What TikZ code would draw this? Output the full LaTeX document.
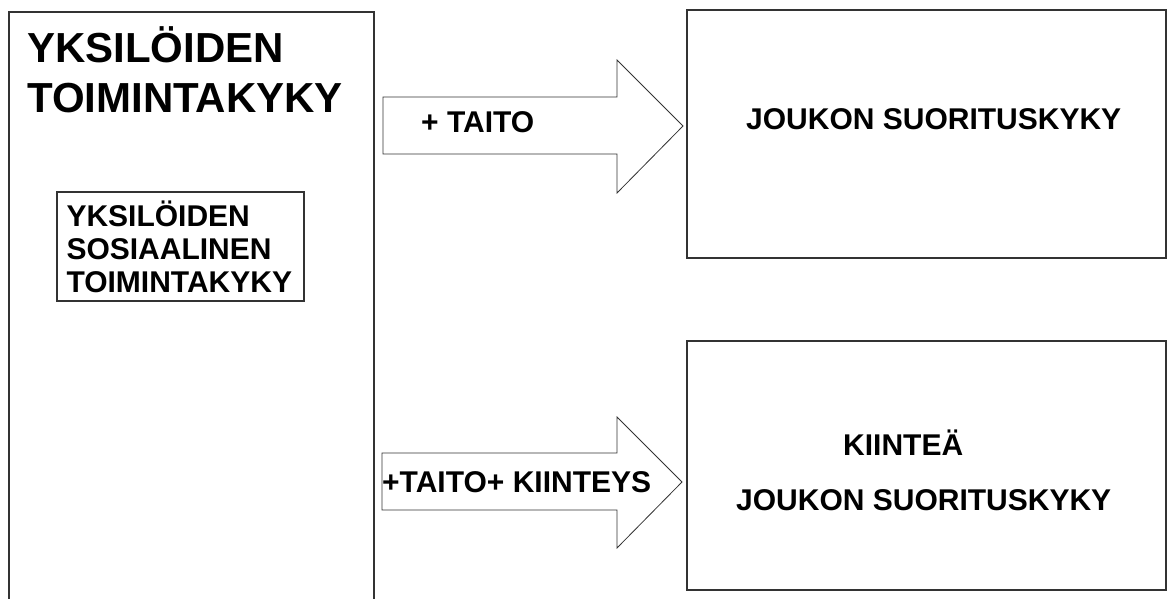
\documentclass[tikz,border=0pt]{standalone}
\usepackage{fontspec}
\setmainfont{Liberation Sans}
\usetikzlibrary{positioning}

\begin{document}
\begin{tikzpicture}[x=1pt, y=-1pt,
  box/.style={rectangle, draw=black!80, line width=1.3pt, inner sep=0pt},
  boxtext/.style={inner sep=0pt, anchor=base west, font=\fontsize{30}{33}\selectfont\bfseries},
  bigarrow/.style={draw=black!80, line width=0.8pt, fill=white, line join=miter}]
\useasboundingbox (0,0) rectangle (1171,599);

\begin{scope}
\clip (0,0) rectangle (1171,599);
\node[box, minimum width=365pt, minimum height=620pt] (yksilot) at (191.5,322) {};
\end{scope}

\node[boxtext, font=\fontsize{42}{50}\selectfont\bfseries, align=left] (otsikko) at (27,113)
{YKSILÖIDEN\\TOIMINTAKYKY};

\node[box, minimum width=247pt, minimum height=109pt, text width=228pt, align=left,
  font=\fontsize{30}{33}\selectfont\bfseries] (sosiaalinen) at (180.5,246.5)
{YKSILÖIDEN\\SOSIAALINEN\\TOIMINTAKYKY};

\node[box, minimum width=479pt, minimum height=248pt] (joukko) at (926.5,134) {};
\node[box, minimum width=479pt, minimum height=249pt] (kiintea) at (926.5,465.5) {};

% arrows
\draw[bigarrow] (383,97) -- (617,97) -- (617,60) -- (683,126) -- (617,193) -- (617,154) -- (383,154) -- cycle;
\draw[bigarrow] (382,453) -- (617,453) -- (617,417) -- (682,482) -- (617,548) -- (617,510) -- (382,510) -- cycle;

\node[boxtext] (taito) at (421,133) {+ TAITO};
\node[boxtext] (kiinteys) at (382,492) {+TAITO+ KIINTEYS};

\node[boxtext] (suoritus) at (746,130) {JOUKON SUORITUSKYKY};
\node[boxtext] (kiinteatxt) at (843,455) {KIINTEÄ};
\node[boxtext] (suoritus2) at (736,510) {JOUKON SUORITUSKYKY};
\end{tikzpicture}
\end{document}
